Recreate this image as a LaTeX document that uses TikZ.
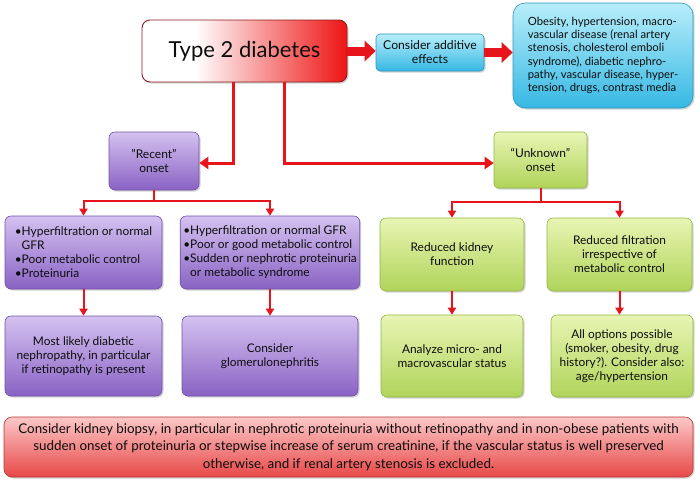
\documentclass[tikz,border=0pt]{standalone}
\usepackage{fontspec}
\setmainfont{Lato}
\usetikzlibrary{arrows.meta,shadows,calc}
\definecolor{arrowred}{HTML}{E8141B}
\definecolor{purpT}{HTML}{D4C2F0}
\definecolor{purpB}{HTML}{8A62C4}
\definecolor{purpD}{HTML}{7052A8}
\definecolor{grnT}{HTML}{E8F5B4}
\definecolor{grnB}{HTML}{B0D45A}
\definecolor{grnD}{HTML}{93B444}
\definecolor{cyT}{HTML}{B8EEFA}
\definecolor{cyB}{HTML}{36B8E4}
\definecolor{cyD}{HTML}{2C94BC}
\definecolor{rdT}{HTML}{FCC8C8}
\definecolor{rdB}{HTML}{E84848}
\definecolor{rdD}{HTML}{B83434}
\definecolor{tdred}{HTML}{EE1A1A}
\definecolor{tdD}{HTML}{8E1C1C}
\pgfdeclarehorizontalshading{tdshade}{100bp}{color(0bp)=(white); color(25bp)=(white); color(38bp)=(white); color(74bp)=(tdred); color(100bp)=(tdred)}
\tikzset{
  bx/.style={rounded corners=6pt, line width=0.6pt,
    drop shadow={shadow xshift=1.5pt,shadow yshift=-1.5pt,fill=black!35},
    align=center, inner sep=3pt, text=black!95,
    font=\fontsize{11.9}{14}\selectfont},
  purplebox/.style={bx, draw=purpD, top color=purpT, bottom color=purpB},
  greenbox/.style={bx, draw=grnD, top color=grnT, bottom color=grnB},
  cyanbox/.style={bx, draw=cyD, top color=cyT, bottom color=cyB},
  redbox/.style={bx, draw=rdD, top color=rdT, bottom color=rdB},
  fat/.style={draw=arrowred, line width=9pt, -{Triangle[length=11pt,width=20pt]}},
  conn/.style={draw=arrowred, line width=3pt, -{Triangle[length=9pt,width=12pt]}},
  sconn/.style={draw=arrowred, line width=2pt, -{Triangle[length=7pt,width=8pt]}},
}
\begin{document}
\begin{tikzpicture}[x=1pt,y=-1pt]
\useasboundingbox (0,0) rectangle (700,483);
% top row
\node[bx, draw=tdD, line width=0.9pt, rounded corners=8pt, shading=tdshade,
  minimum width=205pt, minimum height=62pt, font=\fontsize{22}{26}\selectfont]
  (t2d) at (244.5,51) {Type 2 diabetes};
\node[cyanbox, rounded corners=4pt, minimum width=108pt, minimum height=37pt, font=\fontsize{12.2}{14}\selectfont]
  (cae) at (430,52.5) {Consider additive\\effects};
\node[cyanbox, rounded corners=12pt, minimum width=180pt, minimum height=105pt, align=left,
  font=\fontsize{11.3}{13.3}\selectfont]
  (obes) at (603,55.5) {Obesity, hypertension, macro-\\vascular disease (renal artery\\stenosis, cholesterol emboli\\syndrome), diabetic nephro-\\pathy, vascular disease, hyper-\\tension, drugs, contrast media};
% onset boxes
\node[purplebox, minimum width=90pt, minimum height=58pt, font=\fontsize{12}{14.5}\selectfont]
  (recent) at (154,161) {"Recent"\\onset};
\node[greenbox, rounded corners=4pt, minimum width=93pt, minimum height=56pt, font=\fontsize{12}{14.5}\selectfont]
  (unknown) at (540.5,160) {“Unknown"\\onset};
% second row
\node[purplebox, minimum width=157pt, minimum height=73pt, align=left]
  (L1) at (83.5,252.5) {\textbullet Hyperfiltration or normal\\\phantom{\textbullet}GFR\\\textbullet Poor metabolic control\\\textbullet Proteinuria};
\node[purplebox, minimum width=176pt, minimum height=73pt, align=left]
  (L2) at (270,252.5) {\textbullet Hyperfiltration or normal GFR\\\textbullet Poor or good metabolic control\\\textbullet Sudden or nephrotic proteinuria\\\phantom{\textbullet}or metabolic syndrome};
\node[greenbox, minimum width=144pt, minimum height=73pt]
  (R1) at (452,254.5) {Reduced kidney\\function};
\node[greenbox, minimum width=145pt, minimum height=73pt]
  (R2) at (619.5,254.5) {Reduced filtration\\irrespective of\\metabolic control};
% third row
\node[purplebox, minimum width=157pt, minimum height=80pt]
  (L3) at (83.5,356) {Most likely diabetic\\nephropathy, in particular\\if retinopathy is present};
\node[purplebox, minimum width=176pt, minimum height=80pt]
  (L4) at (270,356) {Consider\\glomerulonephritis};
\node[greenbox, minimum width=142pt, minimum height=82pt]
  (R3) at (452,356) {Analyze micro- and\\macrovascular status};
\node[greenbox, minimum width=142pt, minimum height=82pt]
  (R4) at (622,356) {All options possible\\(smoker, obesity, drug\\history?). Consider also:\\age/hypertension};
% bottom
\node[redbox, rounded corners=8pt, minimum width=689pt, minimum height=60pt,
  font=\fontsize{13.4}{17.5}\selectfont]
  (biopsy) at (348.5,447) {Consider kidney biopsy, in particular in nephrotic proteinuria without retinopathy and in non-obese patients with\\sudden onset of proteinuria or stepwise increase of serum creatinine, if the vascular status is well preserved\\otherwise, and if renal artery stenosis is excluded.};
% connectors
\draw[fat] (t2d.east) -- (t2d.east -| cae.west);
\draw[fat] (cae.east) -- (cae.east -| obes.west);
\draw[conn] ([xshift=-11.5pt]t2d.south) |- ([yshift=-2pt]recent.east);
\draw[conn] ([xshift=39.5pt]t2d.south) |- ([yshift=-3pt]unknown.west);
\draw[sconn] (recent.south) -- ++(0,11) -| (L1.north);
\draw[sconn] (recent.south) -- ++(0,11) -| (L2.north);
\draw[sconn] (unknown.south) -- ++(0,14) -| (R1.north);
\draw[sconn] (unknown.south) -- ++(0,14) -| (R2.north);
\draw[sconn] (L1.south) -- (L3.north);
\draw[sconn] (L2.south) -- (L4.north);
\draw[sconn] (R1.south) -- (R3.north);
\draw[sconn] (R2.south) -- (R2.south |- R4.north);
\end{tikzpicture}
\end{document}
